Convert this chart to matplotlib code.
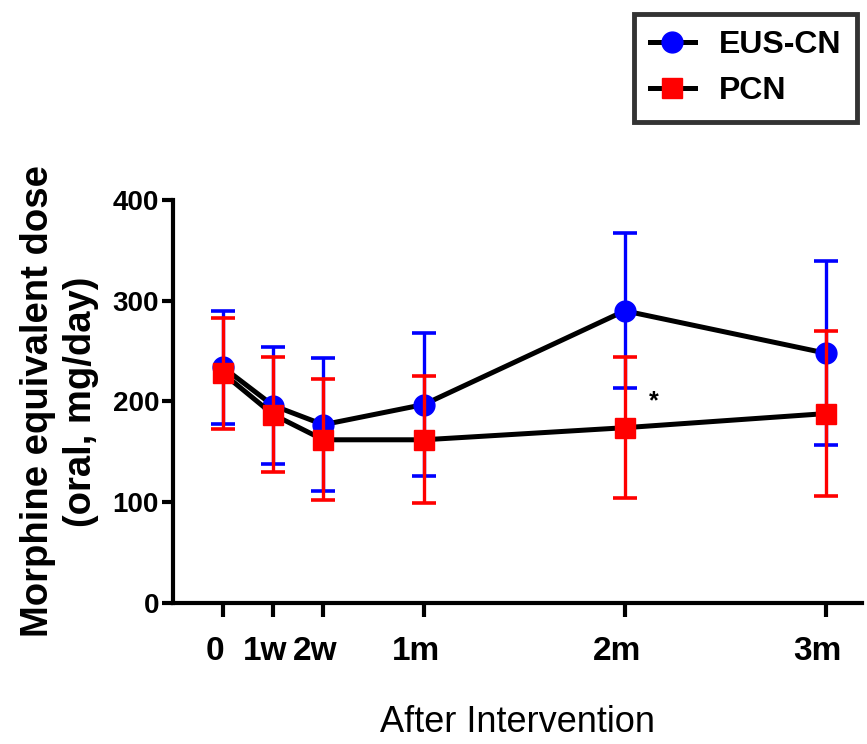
import matplotlib
matplotlib.use("Agg")
import matplotlib.pyplot as plt
import matplotlib.transforms as mtransforms
from matplotlib.lines import Line2D

plt.rcParams['font.family'] = ['Liberation Sans', 'DejaVu Sans']

# time points in weeks after intervention
semanas = [0, 1, 2, 4, 8, 12]
etiquetas_x = ["0", "1w", "2w", "1m", "2m", "3m"]

eus_media = [234, 196, 177, 197, 290, 248]
eus_error = [56, 58, 66, 71, 77, 91]

pcn_media = [228, 187, 162, 162, 174, 188]
pcn_error = [55, 57, 60, 63, 70, 82]

fig = plt.figure(figsize=(8.67, 7.44), dpi=100)
ax = fig.add_axes([0.1995, 0.1895, 0.7945, 0.5417])

# EUS-CN
ax.errorbar(semanas, eus_media, yerr=eus_error, fmt='none', ecolor='#0000ff',
            elinewidth=2.4, capsize=8.3, capthick=2.6, zorder=2)
ax.plot(semanas, eus_media, color='black', linewidth=3.6, zorder=3)
ax.plot(semanas, eus_media, 'o', color='#0000ff', markersize=15, zorder=4)

# PCN
ax.errorbar(semanas, pcn_media, yerr=pcn_error, fmt='none', ecolor='#ff0000',
            elinewidth=2.4, capsize=8.3, capthick=2.6, zorder=5)
ax.plot(semanas, pcn_media, color='black', linewidth=3.6, zorder=6)
ax.plot(semanas, pcn_media, 's', color='#ff0000', markersize=14, zorder=7)

ax.text(8.58, 193, '*', fontsize=18, fontweight='bold', ha='center', va='baseline')

ax.set_xlim(-0.995, 12.72)
ax.set_ylim(0, 400)
ax.set_yticks([0, 100, 200, 300, 400])
ax.set_xticks(semanas)
ax.set_xticklabels(etiquetas_x, fontsize=24, fontweight='bold')
for lbl in ax.get_yticklabels():
    lbl.set_fontsize(20)
    lbl.set_fontweight('bold')

ax.spines['top'].set_visible(False)
ax.spines['right'].set_visible(False)
ax.spines['left'].set_linewidth(3)
ax.spines['bottom'].set_linewidth(3)
ax.tick_params(axis='y', length=8, width=3, pad=2)
ax.tick_params(axis='x', length=10, width=3, pad=14)

# labels in the original sit a little left of their ticks
desplazamiento = mtransforms.ScaledTranslation(-0.08, 0, fig.dpi_scale_trans)
for lbl in ax.get_xticklabels():
    lbl.set_transform(lbl.get_transform() + desplazamiento)

ax.set_ylabel("Morphine equivalent dose\n(oral, mg/day)", fontsize=27.5,
              fontweight='bold', linespacing=1.25, labelpad=10)
ax.set_xlabel("After Intervention", fontsize=26, labelpad=27)

manejadores = [
    Line2D([], [], color='black', linewidth=3.6, marker='o', markersize=15,
           markerfacecolor='#0000ff', markeredgecolor='#0000ff'),
    Line2D([], [], color='black', linewidth=3.6, marker='s', markersize=14,
           markerfacecolor='#ff0000', markeredgecolor='#ff0000'),
]
leyenda = fig.legend(manejadores, ["EUS-CN", "PCN"], loc='upper right',
                     bbox_to_anchor=(857 / 867, 730 / 744),
                     prop={'size': 23, 'weight': 'bold'},
                     frameon=True, fancybox=False, edgecolor='black',
                     handlelength=1.4, handletextpad=0.75, borderpad=0.5,
                     labelspacing=0.5, borderaxespad=0)
leyenda.get_frame().set_linewidth(3.5)

fig.savefig("out.png", dpi=100)
